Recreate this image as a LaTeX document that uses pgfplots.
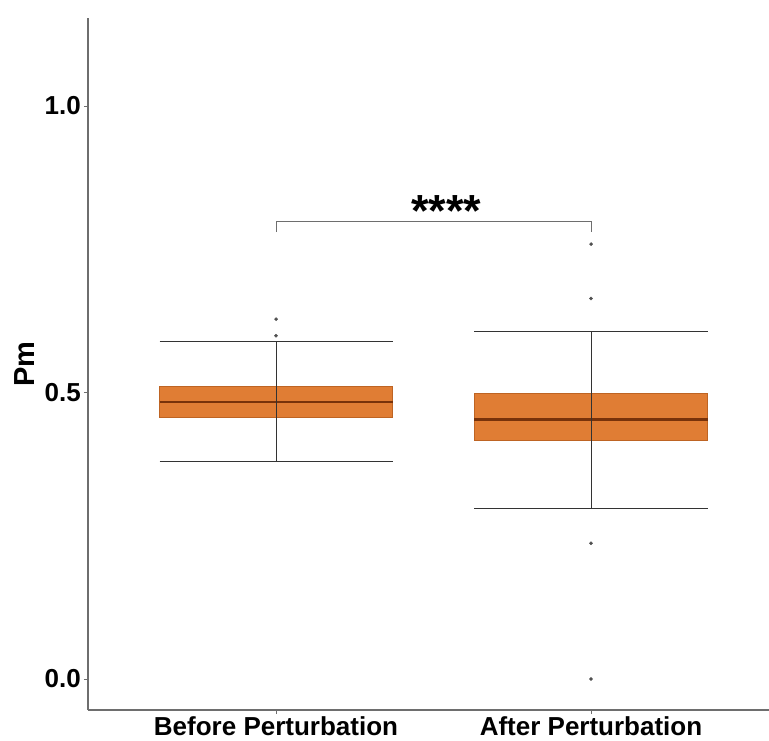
\documentclass[border=0pt]{standalone}
\usepackage{fontspec}
\setmainfont{Liberation Sans}
\usepackage{pgfplots}
\pgfplotsset{compat=1.18}
\usepgfplotslibrary{statistics}
\definecolor{boxfill}{RGB}{224,125,52}
\definecolor{boxdraw}{RGB}{190,100,35}
\definecolor{meddraw}{RGB}{120,50,10}
\definecolor{axgray}{RGB}{110,110,110}
\definecolor{ptgray}{RGB}{80,80,80}
\begin{document}
\begin{tikzpicture}
\path[use as bounding box] (-88pt,-30pt) rectangle (681pt,710pt);
\begin{axis}[
  at={(0,0)}, anchor=south west,
  scale only axis, width=681pt, height=692pt,
  xmin=0.403, xmax=2.565, ymin=-0.0541, ymax=1.1536,
  axis x line*=bottom, axis y line*=left,
  axis line style={axgray, line width=1.3pt, -},
  tick style={axgray, line width=1pt},
  tick align=outside, major tick length=4pt,
  xtick={1,2}, xticklabels={Before Perturbation, After Perturbation},
  ytick={0,0.5,1}, yticklabels={0.0,0.5,1.0},
  tick label style={font=\fontsize{26}{30}\selectfont\bfseries, inner sep=2pt},
  yticklabel style={xshift=-1pt},
  ylabel={Pm},
  every axis y label/.style={at={(axis description cs:0,0.5)}, rotate=90, anchor=center, yshift=63pt, font=\fontsize{29}{32}\selectfont\bfseries},
  clip=false,
  boxplot/draw direction=y,
  boxplot/box extend=0.74,
  boxplot/whisker extend=0.74,
  boxplot/every box/.style={draw=boxdraw, fill=boxfill, line width=1pt},
  boxplot/every median/.style={draw=meddraw, line width=2.2pt},
  boxplot/every whisker/.style={draw=black!80, line width=1pt},
]
\addplot[boxplot prepared={draw position=1, lower whisker=0.379, lower quartile=0.457, median=0.484, upper quartile=0.511, upper whisker=0.589},
  mark=*, mark size=1.6pt, mark options={fill=ptgray, draw=ptgray}]
  table[row sep=\\, y index=0]{y\\0.628\\0.599\\};
\addplot[boxplot prepared={draw position=2, lower whisker=0.298, lower quartile=0.417, median=0.453, upper quartile=0.499, upper whisker=0.606},
  mark=*, mark size=1.6pt, mark options={fill=ptgray, draw=ptgray}]
  table[row sep=\\, y index=0]{y\\0.759\\0.664\\0.237\\0.0\\};
\addplot[black!80, line width=1pt] coordinates {(1,0.379) (1,0.589)};
\addplot[black!80, line width=1pt] coordinates {(2,0.298) (2,0.606)};
\addplot[axgray, line width=1pt] coordinates {(1,0.780) (1,0.799) (2,0.799) (2,0.780)};
\node[font=\fontsize{45}{45}\selectfont\bfseries, inner sep=0pt] at (axis cs:1.54,0.816) {****};
\end{axis}
\end{tikzpicture}
\end{document}
